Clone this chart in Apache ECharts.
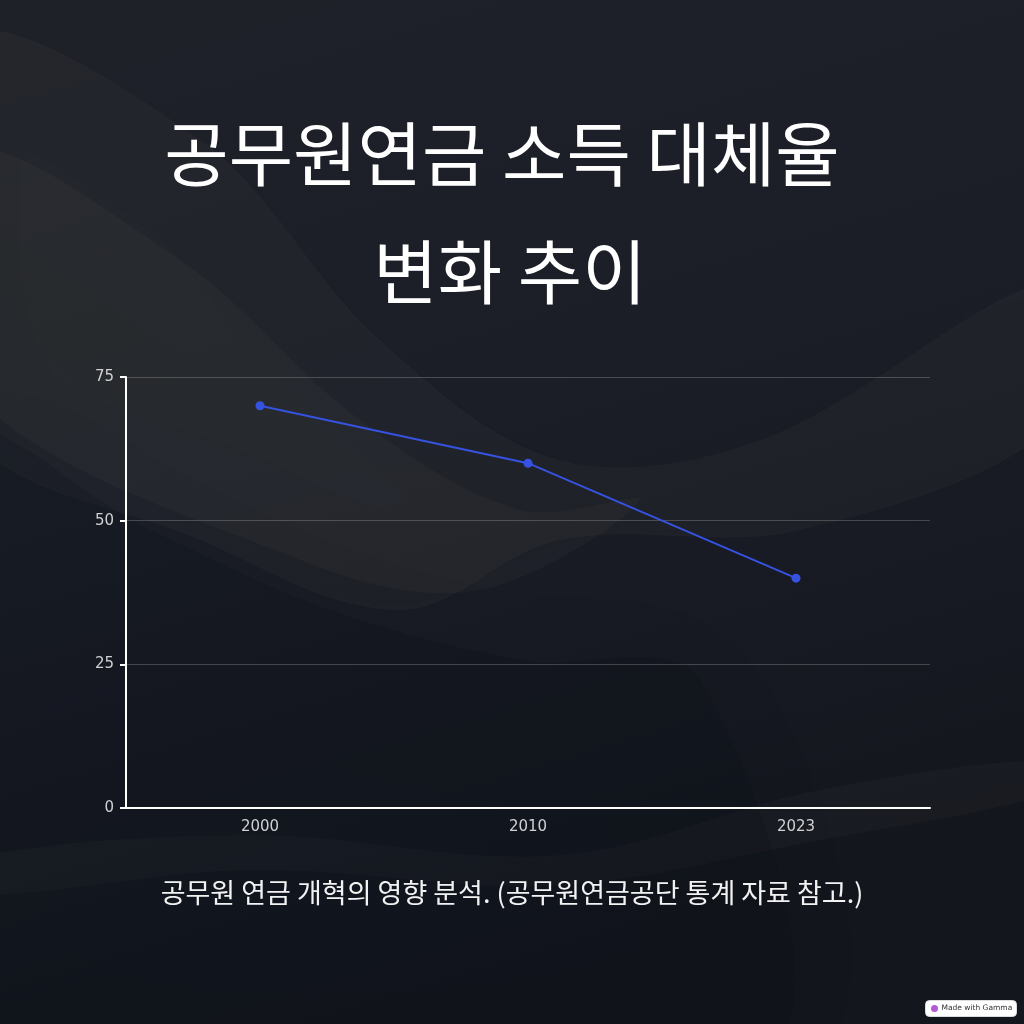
<!DOCTYPE html>
<html>
<head>
<meta charset="utf-8">
<script src="https://cdn.jsdelivr.net/npm/echarts@6/dist/echarts.min.js"></script>
<style>
html,body{margin:0;padding:0;background:#191c25;}
#c{width:1024px;height:1024px;}
</style>
</head>
<body>
<div id="c"></div>
<script>
const years = ['2000', '2010', '2023'];
const replacementRate = [70, 60, 40];
const yTicks = [0, 25, 50, 75];
const titleLines = ['공무원연금 소득 대체율', '변화 추이'];
const captionText = '공무원 연금 개혁의 영향 분석. (공무원연금공단 통계 자료 참고.)';

const chart = echarts.init(document.getElementById('c'), null, {renderer: 'canvas'});
const kr = '"Noto Sans CJK KR", "Noto Sans", sans-serif';
const lat = '"DejaVu Sans", "Noto Sans", sans-serif';

function wave(points, fill, blur, shadow) {
  return {type: 'polygon', silent: true, z: -10,
    shape: {points: points, smooth: 0.35},
    style: {fill: fill, shadowBlur: blur, shadowColor: shadow || fill}};
}

const option = {
  backgroundColor: {
    type: 'linear', x: 0, y: 0, x2: 0.3, y2: 1,
    colorStops: [
      {offset: 0, color: '#1f2129'},
      {offset: 0.5, color: '#1b1e27'},
      {offset: 1, color: '#13161d'}
    ]
  },
  graphic: [
    wave([[-40,40],[200,140],[380,340],[560,460],[760,440],[1060,280],[1060,420],[800,530],[560,540],[400,610],[200,540],[-40,420]], 'rgba(120,115,108,0.08)', 80),
    wave([[-40,150],[180,260],[360,420],[520,510],[640,500],[480,590],[300,560],[-40,380]], 'rgba(140,134,124,0.05)', 60),
    wave([[-40,860],[250,835],[560,855],[820,790],[1060,760],[1060,790],[820,840],[560,885],[250,870],[-40,895]], 'rgba(140,134,124,0.05)', 50),
    wave([[-40,440],[150,530],[330,610],[520,660],[700,680],[760,1060],[-40,1060]], 'rgba(8,12,20,0.16)', 120),
    {type: 'text', x: 502, y: 154,
     style: {text: titleLines[0], fill: '#ffffff', font: '70px ' + kr, align: 'center', verticalAlign: 'middle'}},
    {type: 'text', x: 510, y: 272,
     style: {text: titleLines[1], fill: '#ffffff', font: '70px ' + kr, align: 'center', verticalAlign: 'middle'}},
    {type: 'text', x: 512, y: 893,
     style: {text: captionText, fill: '#f2f2f2', font: '27px ' + kr, align: 'center', verticalAlign: 'middle'}},
    {type: 'group', right: 7, bottom: 7, children: [
      {type: 'rect', shape: {x: 0, y: 0, width: 91, height: 16, r: 4},
       style: {fill: '#ffffff', stroke: '#dddddd', lineWidth: 1}},
      {type: 'circle', shape: {cx: 9, cy: 8, r: 3.5}, style: {fill: '#b35ad6'}},
      {type: 'text', x: 16, y: 4, style: {text: 'Made with Gamma', fill: '#333', font: '7.5px ' + lat}}
    ]}
  ],
  grid: {left: 126, right: 94, top: 377, bottom: 216, containLabel: false},
  xAxis: {
    type: 'category',
    data: years,
    boundaryGap: true,
    axisLine: {lineStyle: {color: '#ffffff', width: 2}},
    axisTick: {alignWithLabel: true, length: 6, lineStyle: {color: '#ffffff', width: 2}},
    axisLabel: {color: '#d0d1d5', fontFamily: lat, fontSize: 15, margin: 12},
    splitLine: {show: false}
  },
  yAxis: {
    type: 'value',
    min: 0, max: 75, interval: 25,
    axisLine: {show: true, lineStyle: {color: '#ffffff', width: 2}},
    axisTick: {show: true, length: 6, lineStyle: {color: '#ffffff', width: 2}},
    axisLabel: {color: '#d0d1d5', fontFamily: lat, fontSize: 15, margin: 12,
      formatter: v => yTicks.includes(v) ? String(v) : ''},
    splitLine: {lineStyle: {color: 'rgba(255,255,255,0.2)', width: 1}}
  },
  series: [{
    type: 'line',
    data: replacementRate,
    symbol: 'circle',
    symbolSize: 9,
    itemStyle: {color: '#3553e0'},
    lineStyle: {color: '#3553e0', width: 2},
    label: {show: false},
    animation: false
  }],
  animation: false
};
chart.setOption(option);
</script>
</body>
</html>
